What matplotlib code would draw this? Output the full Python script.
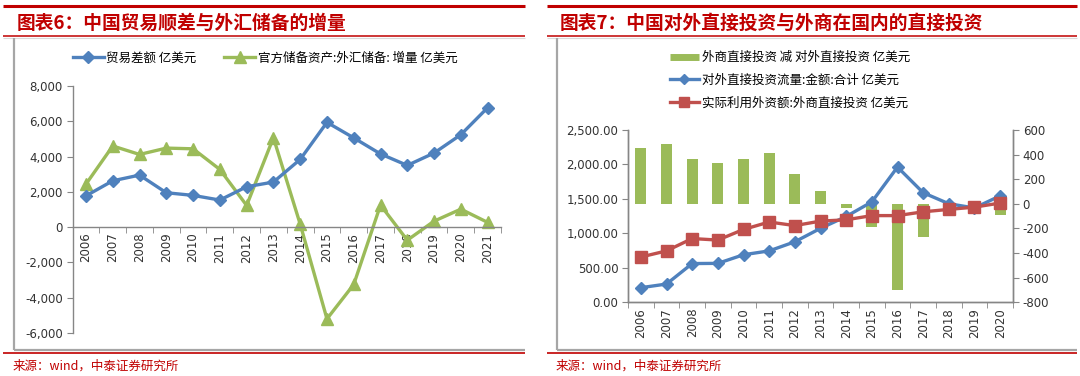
import matplotlib
matplotlib.use('Agg')
import matplotlib.pyplot as plt
from matplotlib.lines import Line2D
from matplotlib.ticker import FuncFormatter, MultipleLocator, FixedLocator

# === Data: chart 6 ===
years_6 = [str(y) for y in range(2006, 2022)]
trade_balance = [1775, 2627, 2950, 1950, 1800, 1535, 2290, 2555, 3840, 5940, 5060, 4150, 3500, 4200, 5240, 6770]
fx_reserve_chg = [2440, 4600, 4120, 4480, 4440, 3270, 1230, 5070, 170, -5200, -3250, 1250, -740, 340, 1020, 270]

# === Data: chart 7 ===
years_7 = [str(y) for y in range(2006, 2021)]
net_fdi = [450, 485, 363, 335, 368, 414, 242, 101, -36, -191, -704, -273, -80, 12, -90]
odi_flow = [212, 265, 562, 565, 690, 746, 878, 1073, 1245, 1457, 1962, 1590, 1430, 1369, 1545]
fdi_used = [657, 746, 925, 903, 1057, 1165, 1113, 1178, 1197, 1258, 1258, 1313, 1348, 1381, 1440]

label_trade = '贸易差额 亿美元'
label_fx = '官方储备资产:外汇储备: 增量 亿美元'
label_net = '外商直接投资 减 对外直接投资 亿美元'
label_odi = '对外直接投资流量:金额:合计 亿美元'
label_fdi = '实际利用外资额:外商直接投资 亿美元'
title_6 = '图表6：中国贸易顺差与外汇储备的增量'
title_7 = '图表7：中国对外直接投资与外商在国内的直接投资'
source = '来源：wind，中泰证券研究所'

# === Styles ===
BLUE = '#4F81BD'
GREEN = '#9BBB59'
RED = '#C0504D'
TITLE_RED = '#C00000'
GRAY = '#A6A6A6'
AXIS_GRAY = '#868686'
TEXT = '#333333'
CJK = ['Noto Sans CJK SC', 'DejaVu Sans']
NUM = 'DejaVu Sans'

plt.rcParams['font.family'] = CJK
W, H = 1080, 376
fig = plt.figure(figsize=(W / 100, H / 100), dpi=100)


def fx(px):
    return px / W


def fy(py):
    return 1 - py / H


def hline(x0, x1, y, color, lw):
    fig.add_artist(Line2D([fx(x0), fx(x1)], [fy(y), fy(y)], color=color, lw=lw,
                          transform=fig.transFigure, solid_capstyle='butt'))


def vline(x, y0, y1, color, lw):
    fig.add_artist(Line2D([fx(x), fx(x)], [fy(y0), fy(y1)], color=color, lw=lw,
                          transform=fig.transFigure, solid_capstyle='butt'))


# === Panel decorations (title bars, frames, sources) ===
for x0, x1, fx_left, title in [(3, 525, 14, title_6), (547, 1077, 557, title_7)]:
    hline(x0, x1, 6, TITLE_RED, 2.2)
    hline(x0, x1, 36, TITLE_RED, 1.1)
    hline(x0, x1, 37.5, '#D9D9D9', 0.8)
    vline(fx_left, 38, 350, GRAY, 1.6)
    hline(fx_left, x1, 350, GRAY, 1.6)
    hline(x0, x1, 352.5, TITLE_RED, 1.2)
    fig.text(fx(fx_left + 3), fy(23), title, color=TITLE_RED, fontsize=13.5,
             fontweight='bold', va='center', ha='left', family=CJK)
    fig.text(fx(fx_left - 1), fy(366), source, color=TITLE_RED, fontsize=9,
             va='center', ha='left', family=CJK)


def style_ticks(ax):
    for lbl in ax.get_xticklabels() + ax.get_yticklabels():
        lbl.set_family(NUM)
        lbl.set_fontsize(8.5)
        lbl.set_color(TEXT)


# === Chart 6 ===
ax1 = fig.add_axes([fx(72.6), fy(333), fx(501 - 72.6), (333 - 86) / H])
ax1.patch.set_visible(False)
ax1.spines['top'].set_visible(False)
ax1.spines['right'].set_visible(False)
ax1.spines['bottom'].set_position(('data', 0))
for s in ('left', 'bottom'):
    ax1.spines[s].set_color(AXIS_GRAY)
    ax1.spines[s].set_linewidth(1.0)

pos6 = list(range(len(years_6)))
ax1.plot(pos6, trade_balance, color=BLUE, lw=2.4, marker='D', markersize=6.5,
         label=label_trade, zorder=3)
ax1.plot(pos6, fx_reserve_chg, color=GREEN, lw=2.4, marker='^', markersize=8,
         label=label_fx, zorder=2)
ax1.set_xlim(-0.5, len(years_6) - 0.5)
ax1.set_ylim(-6000, 8000)
ax1.yaxis.set_major_locator(MultipleLocator(2000))
ax1.yaxis.set_major_formatter(FuncFormatter(lambda v, p: f'{v:,.0f}'))
ax1.set_xticks(pos6)
ax1.set_xticklabels(years_6, rotation=90)
ax1.xaxis.set_minor_locator(FixedLocator([p - 0.5 for p in pos6] + [pos6[-1] + 0.5]))
ax1.tick_params(axis='x', which='major', length=0, pad=4)
ax1.tick_params(axis='x', which='minor', length=4, color=AXIS_GRAY, direction='out')
ax1.tick_params(axis='y', length=4, color=AXIS_GRAY, direction='out', pad=3)
style_ticks(ax1)

h6, l6 = ax1.get_legend_handles_labels()
fig.legend(h6, l6, loc='center', bbox_to_anchor=(fx(265), fy(58)), ncol=2,
           frameon=False, handlelength=2.5, handletextpad=0.2,
           columnspacing=2.2, prop={'family': CJK, 'size': 9})

# === Chart 7 ===
axL = fig.add_axes([fx(628), fy(302.3), fx(1013 - 628), (302.3 - 130) / H])
axR = axL.twinx()
axR.set_zorder(axL.get_zorder() - 1)
axL.patch.set_visible(False)

pos7 = list(range(len(years_7)))
axR.bar(pos7, net_fdi, width=0.42, color=GREEN, label=label_net, zorder=1)
axL.plot(pos7, odi_flow, color=BLUE, lw=2.4, marker='D', markersize=6.5,
         label=label_odi, zorder=2)
axL.plot(pos7, fdi_used, color=RED, lw=2.4, marker='s', markersize=8.5,
         label=label_fdi, zorder=3)

axL.set_xlim(-0.5, len(years_7) - 0.5)
axL.set_ylim(0, 2500)
axR.set_ylim(-800, 600)
axL.yaxis.set_major_locator(MultipleLocator(500))
axL.yaxis.set_major_formatter(FuncFormatter(lambda v, p: f'{v:,.2f}'))
axR.yaxis.set_major_locator(MultipleLocator(200))
axR.yaxis.set_major_formatter(FuncFormatter(lambda v, p: f'{v:.0f}'))
axL.set_xticks(pos7)
axL.set_xticklabels(years_7, rotation=90)
axL.xaxis.set_minor_locator(FixedLocator([p - 0.5 for p in pos7] + [pos7[-1] + 0.5]))
for a in (axL, axR):
    a.spines['top'].set_visible(False)
    for s in ('left', 'right', 'bottom'):
        a.spines[s].set_color(AXIS_GRAY)
        a.spines[s].set_linewidth(1.0)
axL.tick_params(axis='x', which='major', length=0, pad=4)
axL.tick_params(axis='x', which='minor', length=4, color=AXIS_GRAY, direction='out')
axL.tick_params(axis='y', length=4, color=AXIS_GRAY, direction='out', pad=3)
axR.tick_params(axis='y', length=4, color=AXIS_GRAY, direction='out', pad=3)
style_ticks(axL)
style_ticks(axR)

h7 = [Line2D([], [], color=GREEN, lw=5, solid_capstyle='butt'),
      Line2D([], [], color=BLUE, lw=2.4, marker='D', markersize=5),
      Line2D([], [], color=RED, lw=2.4, marker='s', markersize=6.5)]
fig.legend(h7, [label_net, label_odi, label_fdi], loc='upper left',
           bbox_to_anchor=(fx(670), fy(51)), ncol=1, frameon=False,
           handlelength=2.3, handletextpad=0.3, labelspacing=0.78,
           borderaxespad=0, borderpad=0, prop={'family': CJK, 'size': 9})

fig.savefig('out.png', dpi=100)
